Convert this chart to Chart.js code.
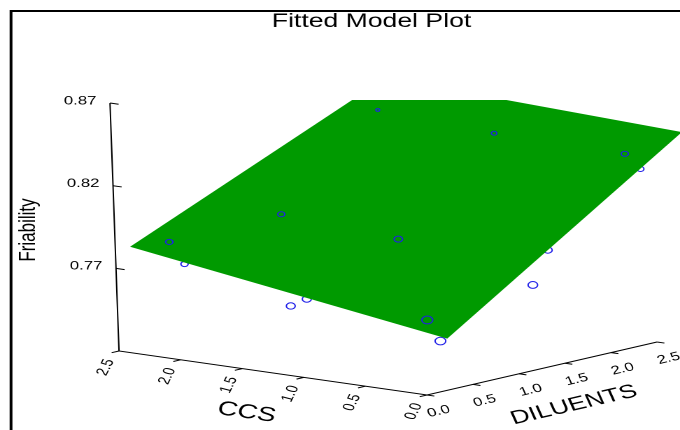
<!DOCTYPE html>
<html>
<head>
<meta charset="utf-8">
<title>Fitted Model Plot</title>
<script src="https://cdn.jsdelivr.net/npm/chart.js@4.4.1/dist/chart.umd.min.js"></script>
<style>
  html, body { margin: 0; padding: 0; background: #fff; overflow: hidden; }
  /* the reference picture is stretched sideways, so the chart is drawn narrow and widened */
  #wrap { position: relative; width: 486px; height: 430px; transform: scaleX(1.3992); transform-origin: 0 0; }
</style>
</head>
<body>
<div id="wrap"><canvas id="myChart"></canvas></div>
<script>
// tick values on the three axes
const ccsTicks = [0, 0.5, 1, 1.5, 2, 2.5];
const dilTicks = [0, 0.5, 1, 1.5, 2, 2.5];
const friTicks = [0.77, 0.82, 0.87];

// observed runs lying above the fitted surface
const overCcs = [2.30, 1.87, 2.24, 0.96, 0.18, 1.26, 0.23];
const overDil = [0.32, 0.97, 2.54, 1.02, 0.27, 2.49, 2.53];
const overFri = [0.784, 0.797, 0.836, 0.791, 0.760, 0.833, 0.831];

// observed runs lying below the fitted surface
const underCcs = [2.25, 1.35, 1.24, 0.20, 0.05, 0.19, 0.22];
const underDil = [0.41, 0.35, 0.38, 0.43, 1.25, 1.61, 2.68];
const underFri = [0.770, 0.755, 0.760, 0.745, 0.770, 0.785, 0.820];

// corners of the fitted model surface
const surfCcs = [0, 2.5, 2.5, 0];
const surfDil = [0.24, 0.16, 2.98, 2.85];
const surfFri = [0.751, 0.781, 0.847, 0.8425];

// view projection (view units, 680 x 430)
const ORIGIN = { x: 427, y: 395 };
const AX_C = { x: -123.2, y: -17.6 };
const AX_D = { x: 92, y: -21.2 };
const AX_Z = { x: -60, y: -1653 };
const Z_BASE = 0.72;
const Z_TOP = 0.87;
const C_MAX = 2.5;
const D_MAX = 2.5;

function proj(c, d, z) {
  return {
    x: ORIGIN.x + c * AX_C.x + d * AX_D.x + (z - Z_BASE) * AX_Z.x,
    y: ORIGIN.y + c * AX_C.y + d * AX_D.y + (z - Z_BASE) * AX_Z.y,
  };
}

const GAP = { x: NaN, y: NaN };

function toPoints(cs, ds, zs) {
  return cs.map((c, i) => Object.assign(proj(c, ds[i], zs[i]), { c: c, d: ds[i] }));
}

// nearer runs look bigger
function pointSize(ctx) {
  if (!ctx.raw) return 3;
  return Math.max(1.2, 4.2 - 0.6 * (ctx.raw.c + ctx.raw.d));
}

let surface = toPoints(surfCcs, surfDil, surfFri);
surface = [surface[0], surface[1], surface[2], surface[3], surface[0]];

let axisLine = [
  proj(C_MAX, 0, Z_TOP),
  proj(C_MAX, 0, Z_BASE),
  proj(0, 0, Z_BASE),
  proj(0, D_MAX, Z_BASE),
];

let tickMarks = [];
friTicks.forEach((z) => { tickMarks.push(proj(C_MAX, 0, z), proj(C_MAX - 0.07, 0, z), GAP); });
ccsTicks.forEach((c) => { tickMarks.push(proj(c, 0, Z_BASE), proj(c, -0.08, Z_BASE), GAP); });
dilTicks.forEach((d) => { tickMarks.push(proj(0, d, Z_BASE), proj(-0.06, d, Z_BASE), GAP); });

const FONT = '"Liberation Sans", Arial, Helvetica, sans-serif';

const textPlugin = {
  id: "plotText",
  afterDraw(chart) {
    const ctx = chart.ctx;
    const xs = chart.scales.x;
    const ys = chart.scales.y;
    const px = (p) => ({ x: xs.getPixelForValue(p.x), y: ys.getPixelForValue(p.y) });
    const angleOf = (a, b) => {
      const pa = px(a), pb = px(b);
      return Math.atan2(pb.y - pa.y, pb.x - pa.x);
    };
    const label = (text, p, angle, font, align, base) => {
      const q = px(p);
      ctx.save();
      ctx.translate(q.x, q.y);
      ctx.rotate(angle);
      ctx.font = font;
      ctx.textAlign = align || "center";
      ctx.textBaseline = base || "middle";
      ctx.fillStyle = "#000";
      ctx.fillText(text, 0, 0);
      ctx.restore();
    };

    // frame
    const fl = px({ x: 11, y: 11 });
    ctx.save();
    ctx.strokeStyle = "#000";
    ctx.lineWidth = 2;
    ctx.beginPath();
    ctx.moveTo(fl.x, chart.height);
    ctx.lineTo(fl.x, fl.y);
    ctx.lineTo(chart.width, fl.y);
    ctx.stroke();
    ctx.restore();

    label("Fitted Model Plot", { x: 371.5, y: 27 }, 0, "19px " + FONT, "center", "alphabetic");

    // axis titles
    const ccsAngle = angleOf(proj(C_MAX, 0, Z_BASE), proj(0, 0, Z_BASE));
    const dilAngle = angleOf(proj(0, 0, Z_BASE), proj(0, D_MAX, Z_BASE));
    label("Friability", { x: 35, y: 230 }, -Math.PI / 2, "17px " + FONT, "center", "alphabetic");
    label("CCS", proj(1.25, -0.3, 0.70), ccsAngle, "20px " + FONT);
    label("DILUENTS", proj(-0.25, 1.25, 0.7005), dilAngle, "19px " + FONT);

    // tick labels
    friTicks.forEach((z) => label(z.toFixed(2), proj(C_MAX + 0.11, 0, z), 0, "12px " + FONT, "right"));
    ccsTicks.forEach((c) => label(c.toFixed(1), proj(c, -0.15, 0.712), -70 * Math.PI / 180, "12px " + FONT));
    dilTicks.forEach((d) => label(d.toFixed(1), proj(-0.09, d, 0.711), dilAngle, "12px " + FONT));
  },
};

let ctx = document.getElementById("myChart").getContext("2d");

let myChart = new Chart(ctx, {
  type: "scatter",
  data: {
    datasets: [
      {
        label: "Observed (above)",
        data: toPoints(overCcs, overDil, overFri),
        order: 0,
        pointStyle: "circle",
        pointRadius: pointSize,
        pointBorderWidth: 1,
        pointBorderColor: "#2020e8",
        pointBackgroundColor: "rgba(0,0,0,0)",
        clip: false,
      },
      {
        type: "line",
        label: "Fitted surface",
        data: surface,
        order: 1,
        fill: "shape",
        backgroundColor: "#009a00",
        borderColor: "#009a00",
        borderWidth: 0,
        pointRadius: 0,
        tension: 0,
        clip: 0,
      },
      {
        label: "Observed (below)",
        data: toPoints(underCcs, underDil, underFri),
        order: 2,
        pointStyle: "circle",
        pointRadius: pointSize,
        pointBorderWidth: 1,
        pointBorderColor: "#2020e8",
        pointBackgroundColor: "rgba(0,0,0,0)",
        clip: false,
      },
      {
        type: "line",
        label: "Axes",
        data: axisLine,
        order: 3,
        borderColor: "#000",
        borderWidth: 1,
        pointRadius: 0,
        fill: false,
        tension: 0,
        clip: false,
      },
      {
        type: "line",
        label: "Ticks",
        data: tickMarks,
        order: 4,
        borderColor: "#000",
        borderWidth: 1,
        pointRadius: 0,
        fill: false,
        spanGaps: false,
        clip: false,
      },
    ],
  },
  options: {
    responsive: true,
    maintainAspectRatio: false,
    animation: false,
    devicePixelRatio: 2,
    events: [],
    layout: { autoPadding: false, padding: { top: 100, left: 0, right: 0, bottom: 0 } },
    plugins: {
      legend: { display: false },
      tooltip: { enabled: false },
    },
    scales: {
      x: { type: "linear", min: 0, max: 680, display: false },
      y: { type: "linear", min: 100, max: 430, reverse: true, display: false },
    },
  },
  plugins: [textPlugin],
});
</script>
</body>
</html>
